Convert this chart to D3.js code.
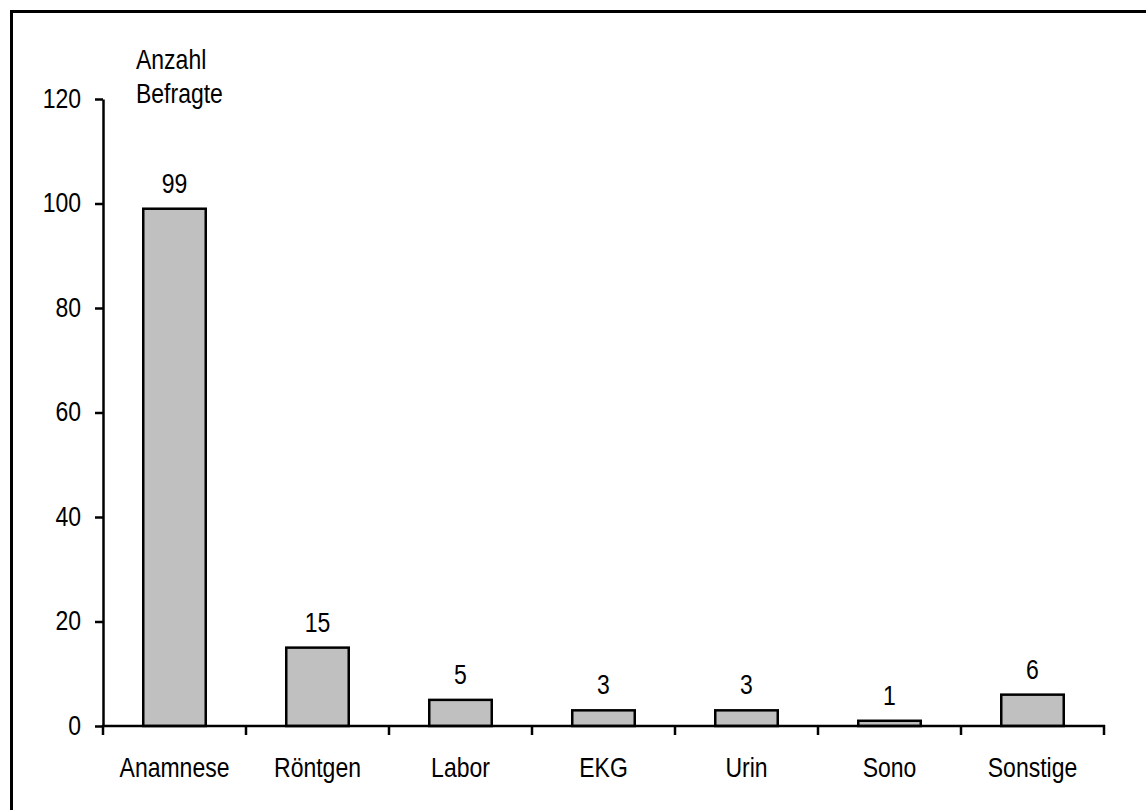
<!DOCTYPE html>
<html>
<head>
<meta charset="utf-8">
<script src="https://cdn.jsdelivr.net/npm/d3@7"></script>
<style>
  html, body { margin: 0; padding: 0; background: #fff; }
  svg text { font-family: "Liberation Sans", Arial, Helvetica, sans-serif; fill: #000; }
</style>
</head>
<body>
<svg id="chart" width="1146" height="810"></svg>
<script>
// Diagnostic methods used (number of respondents)
const categories = ["Anamnese", "Röntgen", "Labor", "EKG", "Urin", "Sono", "Sonstige"];
const counts = [99, 15, 5, 3, 3, 1, 6];
const yTicks = [0, 20, 40, 60, 80, 100, 120];
const yTitle = ["Anzahl", "Befragte"];

const svg = d3.select("#chart");
const fontSize = 23;
const stretch = 1.22; // glyphs are drawn slightly taller than wide
const lw = 2.5;

// places a text element at (px, py) baseline with vertical stretch
function label(sel, px, py, anchor) {
  return sel.attr("transform", `translate(${px},${py}) scale(1,${stretch})`)
    .attr("text-anchor", anchor)
    .attr("font-size", fontSize);
}

// frame around the chart area (top and left edges visible)
svg.append("path")
  .attr("d", "M11.5,812 L11.5,11.5 L1148,11.5")
  .attr("fill", "none")
  .attr("stroke", "#000")
  .attr("stroke-width", 3);

const x0 = 103, x1 = 1104, yTop = 99, yBottom = 726;

const x = d3.scaleBand()
  .domain(categories)
  .range([x0, x1])
  .paddingInner(0.563)
  .paddingOuter(0.2815);

const y = d3.scaleLinear()
  .domain([0, 120])
  .range([yBottom, yTop]);

// bars
svg.append("g")
  .selectAll("rect")
  .data(counts)
  .join("rect")
  .attr("x", (d, i) => x(categories[i]))
  .attr("y", d => y(d))
  .attr("width", x.bandwidth())
  .attr("height", d => y(0) - y(d))
  .attr("fill", "#c0c0c0")
  .attr("stroke", "#000")
  .attr("stroke-width", lw);

// value labels above bars
svg.append("g")
  .selectAll("text")
  .data(counts)
  .join("text")
  .each(function (d, i) {
    label(d3.select(this), x(categories[i]) + x.bandwidth() / 2, y(d) - 16, "middle");
  })
  .text(d => d);

// y axis
const yAxis = svg.append("g")
  .attr("transform", `translate(${x0},0)`)
  .call(d3.axisLeft(y).tickValues(yTicks).tickSize(8).tickPadding(14).tickSizeOuter(0));
yAxis.select(".domain").attr("stroke", "#000").attr("stroke-width", lw);
yAxis.selectAll(".tick line").attr("stroke", "#000").attr("stroke-width", lw);
yAxis.selectAll(".tick text").remove();
yAxis.selectAll(".tick")
  .append("text")
  .each(function () { label(d3.select(this), -22, 8, "end"); })
  .text(d => d);

// x axis: ticks at band boundaries
const boundaries = categories.map(c => x(c) - x.step() * x.paddingInner() / 2)
  .concat([x1]);
boundaries[0] = x0;
const xg = svg.append("g").attr("transform", `translate(0,${yBottom})`);
xg.append("line")
  .attr("x1", x0 - 1).attr("x2", x1 + 1)
  .attr("stroke", "#000").attr("stroke-width", lw);
xg.selectAll("line.tk")
  .data(boundaries)
  .join("line")
  .attr("class", "tk")
  .attr("x1", d => d).attr("x2", d => d)
  .attr("y1", -1).attr("y2", 9)
  .attr("stroke", "#000").attr("stroke-width", lw);
xg.selectAll("text")
  .data(categories)
  .join("text")
  .each(function (d) { label(d3.select(this), x(d) + x.bandwidth() / 2, 51, "middle"); })
  .text(d => d);

// y axis title
svg.append("g")
  .selectAll("text")
  .data(yTitle)
  .join("text")
  .each(function (d, i) { label(d3.select(this), 136, 69 + i * 34, "start"); })
  .text(d => d);
</script>
</body>
</html>
